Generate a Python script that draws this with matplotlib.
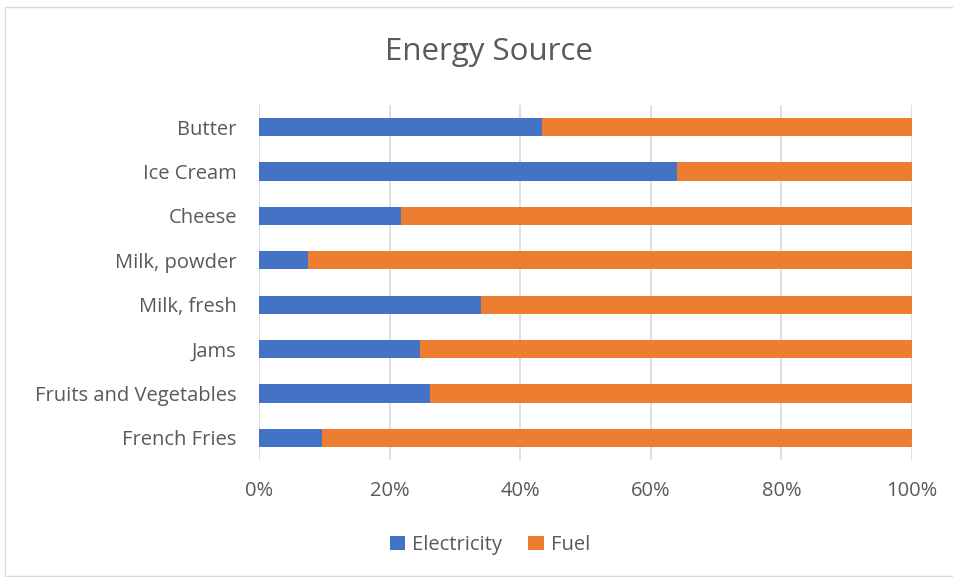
import matplotlib
matplotlib.use("Agg")
import matplotlib.pyplot as plt
from matplotlib.patches import Rectangle
from matplotlib.ticker import PercentFormatter

# energy source share per product (percent of total)
products = ["Butter", "Ice Cream", "Cheese", "Milk, powder", "Milk, fresh",
            "Jams", "Fruits and Vegetables", "French Fries"]
electricity = [43.3, 64.0, 21.8, 7.5, 34.0, 24.6, 26.2, 9.7]
fuel = [100 - e for e in electricity]

plt.rcParams['font.family'] = ['Open Sans', 'DejaVu Sans']
text_col = '#595959'

fig = plt.figure(figsize=(9.54, 5.77), dpi=100)
ax = fig.add_axes([259 / 954, 1 - 460 / 577, (912 - 259) / 954, (460 - 105) / 577])

ypos = list(range(len(products)))[::-1]
ax.barh(ypos, electricity, height=0.41, color='#4472C4', label='Electricity', zorder=3)
ax.barh(ypos, fuel, left=electricity, height=0.41, color='#ED7D31', label='Fuel', zorder=3)

ax.set_ylim(-0.5, len(products) - 0.5)
ax.set_xlim(0, 100)
ax.set_yticks(ypos)
ax.set_yticklabels(products)
ax.set_xticks(range(0, 101, 20))
ax.xaxis.set_major_formatter(PercentFormatter(decimals=0))
ax.tick_params(axis='both', length=0, labelsize=14.5, colors=text_col)
ax.tick_params(axis='x', pad=15)
ax.tick_params(axis='y', pad=16)
ax.grid(axis='x', color='#d9d9d9', linewidth=1.2, zorder=0)
for s in ax.spines.values():
    s.set_visible(False)

fig.text(0.512, 1 - 52 / 577, 'Energy Source', ha='center', va='center',
         fontsize=22.5, color=text_col)

fig.legend(loc='center', bbox_to_anchor=(490 / 954, 1 - 545 / 577), ncol=2,
           frameon=False, fontsize=14.5, labelcolor=text_col, handlelength=0.75,
           handleheight=0.75, handletextpad=0.35, columnspacing=1.3)

# chart border
fig.patches.append(Rectangle((5 / 954, 0.002), 1, 1 - 7 / 577 - 0.002,
                             transform=fig.transFigure, fill=False,
                             edgecolor='#d9d9d9', linewidth=1))

fig.savefig('out.png', dpi=100)
